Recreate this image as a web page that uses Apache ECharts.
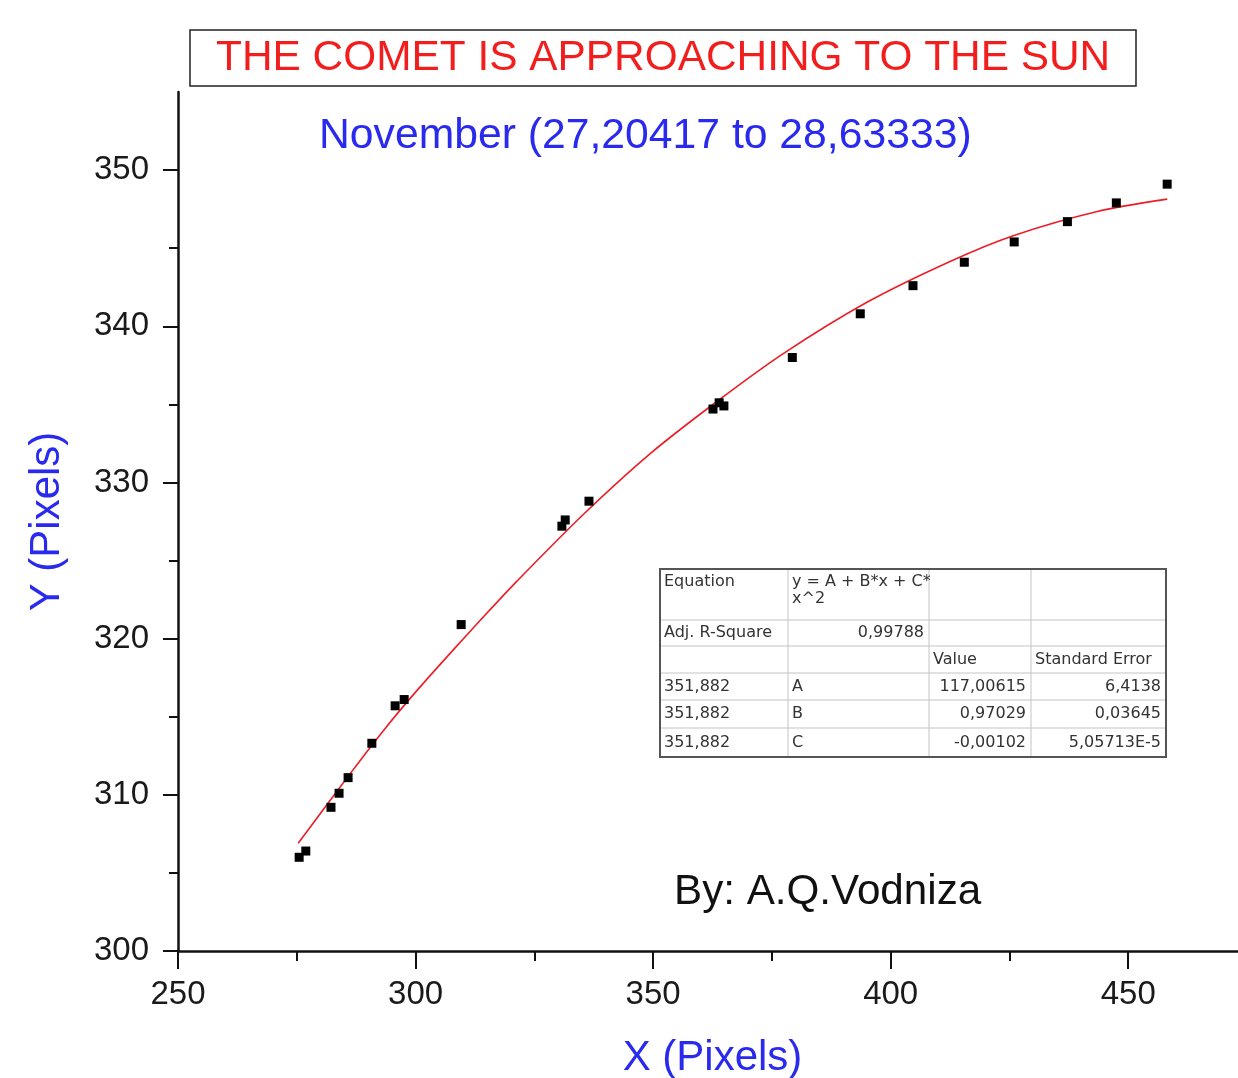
<!DOCTYPE html>
<html>
<head>
<meta charset="utf-8">
<script src="https://cdn.jsdelivr.net/npm/echarts@6.0.0/dist/echarts.min.js"></script>
<style>
html, body { margin: 0; padding: 0; background: #fff; }
#comet-chart { width: 1238px; height: 1078px; }
</style>
</head>
<body>
<div id="comet-chart"></div>
<script>
// observed comet positions (pixels)
const obsX = [275.5, 276.9, 282.2, 283.9, 285.8, 290.8, 295.7, 297.6, 309.6, 330.8, 331.5, 336.5,
  362.6, 363.9, 364.9, 379.3, 393.6, 404.7, 415.5, 426.0, 437.2, 447.5, 458.2];
const obsY = [306.0, 306.4, 309.2, 310.1, 311.1, 313.3, 315.7, 316.1, 320.9, 327.2, 327.6, 328.8,
  334.7, 335.1, 334.9, 338.0, 340.8, 342.6, 344.1, 345.4, 346.7, 347.9, 349.1];

// quadratic fit curve
const fitX = [275.3, 286.6, 293.6, 300.5, 307.7, 314.0, 321.4, 335.3, 349.4, 363.5, 377.4,
  395.1, 412.5, 425.8, 443.5, 458.2];
const fitY = [306.9, 311.5, 314.25, 316.75, 319.2, 321.3, 323.7, 327.95, 331.85, 335.2, 338.25,
  341.55, 344.15, 345.8, 347.35, 348.14];

// ticks
const xMajorTicks = [250, 300, 350, 400, 450];
const xMinorTicks = [275, 325, 375, 425];
const yMajorTicks = [300, 310, 320, 330, 340, 350];
const yMinorTicks = [305, 315, 325, 335, 345];

// fit result table
const tableRows = [
  ['Equation', 'y = A + B*x + C*\nx^2', '', ''],
  ['Adj. R-Square', '0,99788', '', ''],
  ['', '', 'Value', 'Standard Error'],
  ['351,882', 'A', '117,00615', '6,4138'],
  ['351,882', 'B', '0,97029', '0,03645'],
  ['351,882', 'C', '-0,00102', '5,05713E-5']
];

const colEdges = [660, 788, 929, 1031, 1166];
const rowEdges = [569, 620, 646, 673, 700, 728, 757];

function cellAlign(r, c) {
  if (r === 1 && c === 1) return 'right';
  if (r >= 3 && c >= 2) return 'right';
  return 'left';
}

function buildTable() {
  const els = [];
  const w = colEdges[4] - colEdges[0];
  const h = rowEdges[6] - rowEdges[0];
  els.push({
    type: 'rect',
    shape: { x: colEdges[0], y: rowEdges[0], width: w, height: h },
    style: { fill: '#fff', stroke: 'none' },
    z: 10
  });
  for (let i = 1; i < rowEdges.length - 1; i++) {
    els.push({
      type: 'line',
      shape: { x1: colEdges[0], y1: rowEdges[i], x2: colEdges[4], y2: rowEdges[i] },
      style: { stroke: '#c4c4c4', lineWidth: 1 },
      z: 11
    });
  }
  for (let j = 1; j < colEdges.length - 1; j++) {
    els.push({
      type: 'line',
      shape: { x1: colEdges[j], y1: rowEdges[0], x2: colEdges[j], y2: rowEdges[6] },
      style: { stroke: '#c4c4c4', lineWidth: 1 },
      z: 11
    });
  }
  els.push({
    type: 'rect',
    shape: { x: colEdges[0], y: rowEdges[0], width: w, height: h },
    style: { fill: 'none', stroke: '#555', lineWidth: 2 },
    z: 12
  });
  tableRows.forEach((row, r) => {
    row.forEach((txt, c) => {
      if (!txt) return;
      const align = cellAlign(r, c);
      const x = align === 'left' ? colEdges[c] + 4 : colEdges[c + 1] - 5;
      const first = r === 0;
      els.push({
        type: 'text',
        z: 13,
        style: {
          text: txt,
          x: x,
          y: first ? rowEdges[0] + 4 : (rowEdges[r] + rowEdges[r + 1]) / 2,
          align: align,
          verticalAlign: first ? 'top' : 'middle',
          fill: '#333',
          fontSize: 16,
          fontFamily: 'DejaVu Sans',
          lineHeight: 17
        }
      });
    });
  });
  return els;
}

const labelFont = { fontFamily: 'Liberation Sans', fontSize: 33, color: '#1a1a1a' };

const option = {
  backgroundColor: '#fff',
  animation: false,
  title: [
    {
      text: 'THE COMET IS APPROACHING TO THE SUN',
      left: 190,
      top: 30,
      padding: [3, 26],
      borderColor: '#222',
      borderWidth: 1.5,
      backgroundColor: '#fff',
      textStyle: { color: '#f21d1d', fontSize: 42.4, fontWeight: 'normal', fontFamily: 'Liberation Sans', lineHeight: 50 }
    },
    {
      text: 'November (27,20417 to 28,63333)',
      left: 314,
      top: 110,
      textStyle: { color: '#2a2aee', fontSize: 42.7, fontWeight: 'normal', fontFamily: 'Liberation Sans' }
    },
    {
      text: 'By: A.Q.Vodniza',
      left: 669,
      top: 866,
      textStyle: { color: '#111', fontSize: 42.2, fontWeight: 'normal', fontFamily: 'Liberation Sans' }
    }
  ],
  grid: { left: 178, top: 92, right: -9, bottom: 127, containLabel: false, outerBoundsMode: 'none' },
  xAxis: [
    {
      type: 'value',
      position: 'bottom',
      min: 250,
      max: 475,
      interval: 50,
      name: 'X (Pixels)',
      nameLocation: 'middle',
      nameGap: 86,
      nameTextStyle: { color: '#2a2aee', fontSize: 42, fontFamily: 'Liberation Sans' },
      axisLine: { show: true, onZero: false, lineStyle: { color: '#111', width: 2.5 } },
      axisTick: { show: true, customValues: xMajorTicks, length: 18, lineStyle: { color: '#111', width: 2 } },
      axisLabel: Object.assign({ customValues: xMajorTicks, margin: 27 }, labelFont),
      splitLine: { show: false }
    },
    {
      type: 'value',
      position: 'bottom',
      min: 250,
      max: 475,
      interval: 50,
      axisLine: { show: false },
      axisTick: { show: true, customValues: xMinorTicks, length: 10, lineStyle: { color: '#111', width: 2 } },
      axisLabel: { show: false },
      splitLine: { show: false }
    }
  ],
  yAxis: [
    {
      type: 'value',
      position: 'left',
      min: 300,
      max: 355,
      interval: 10,
      name: 'Y (Pixels)',
      nameLocation: 'middle',
      nameGap: 110,
      nameTextStyle: { color: '#2a2aee', fontSize: 42, fontFamily: 'Liberation Sans' },
      axisLine: { show: true, onZero: false, lineStyle: { color: '#111', width: 2.5 } },
      axisTick: { show: true, customValues: yMajorTicks, length: 15, lineStyle: { color: '#111', width: 2 } },
      axisLabel: Object.assign({ customValues: yMajorTicks, margin: 29 }, labelFont),
      splitLine: { show: false }
    },
    {
      type: 'value',
      position: 'left',
      min: 300,
      max: 355,
      interval: 10,
      axisLine: { show: false },
      axisTick: { show: true, customValues: yMinorTicks, length: 9, lineStyle: { color: '#111', width: 2 } },
      axisLabel: { show: false },
      splitLine: { show: false }
    }
  ],
  series: [
    {
      name: 'fit',
      type: 'line',
      smooth: 0.3,
      showSymbol: false,
      xAxisIndex: 0,
      yAxisIndex: 0,
      data: fitX.map((x, i) => [x, fitY[i]]),
      lineStyle: { color: '#ee1c25', width: 1.6 },
      z: 3
    },
    {
      name: 'observed',
      type: 'scatter',
      symbol: 'rect',
      symbolSize: 9,
      xAxisIndex: 0,
      yAxisIndex: 0,
      data: obsX.map((x, i) => [x, obsY[i]]),
      itemStyle: { color: '#000', opacity: 1 },
      z: 4
    }
  ],
  graphic: buildTable()
};

const myChart = echarts.init(document.getElementById('comet-chart'));
myChart.setOption(option);
</script>
</body>
</html>
